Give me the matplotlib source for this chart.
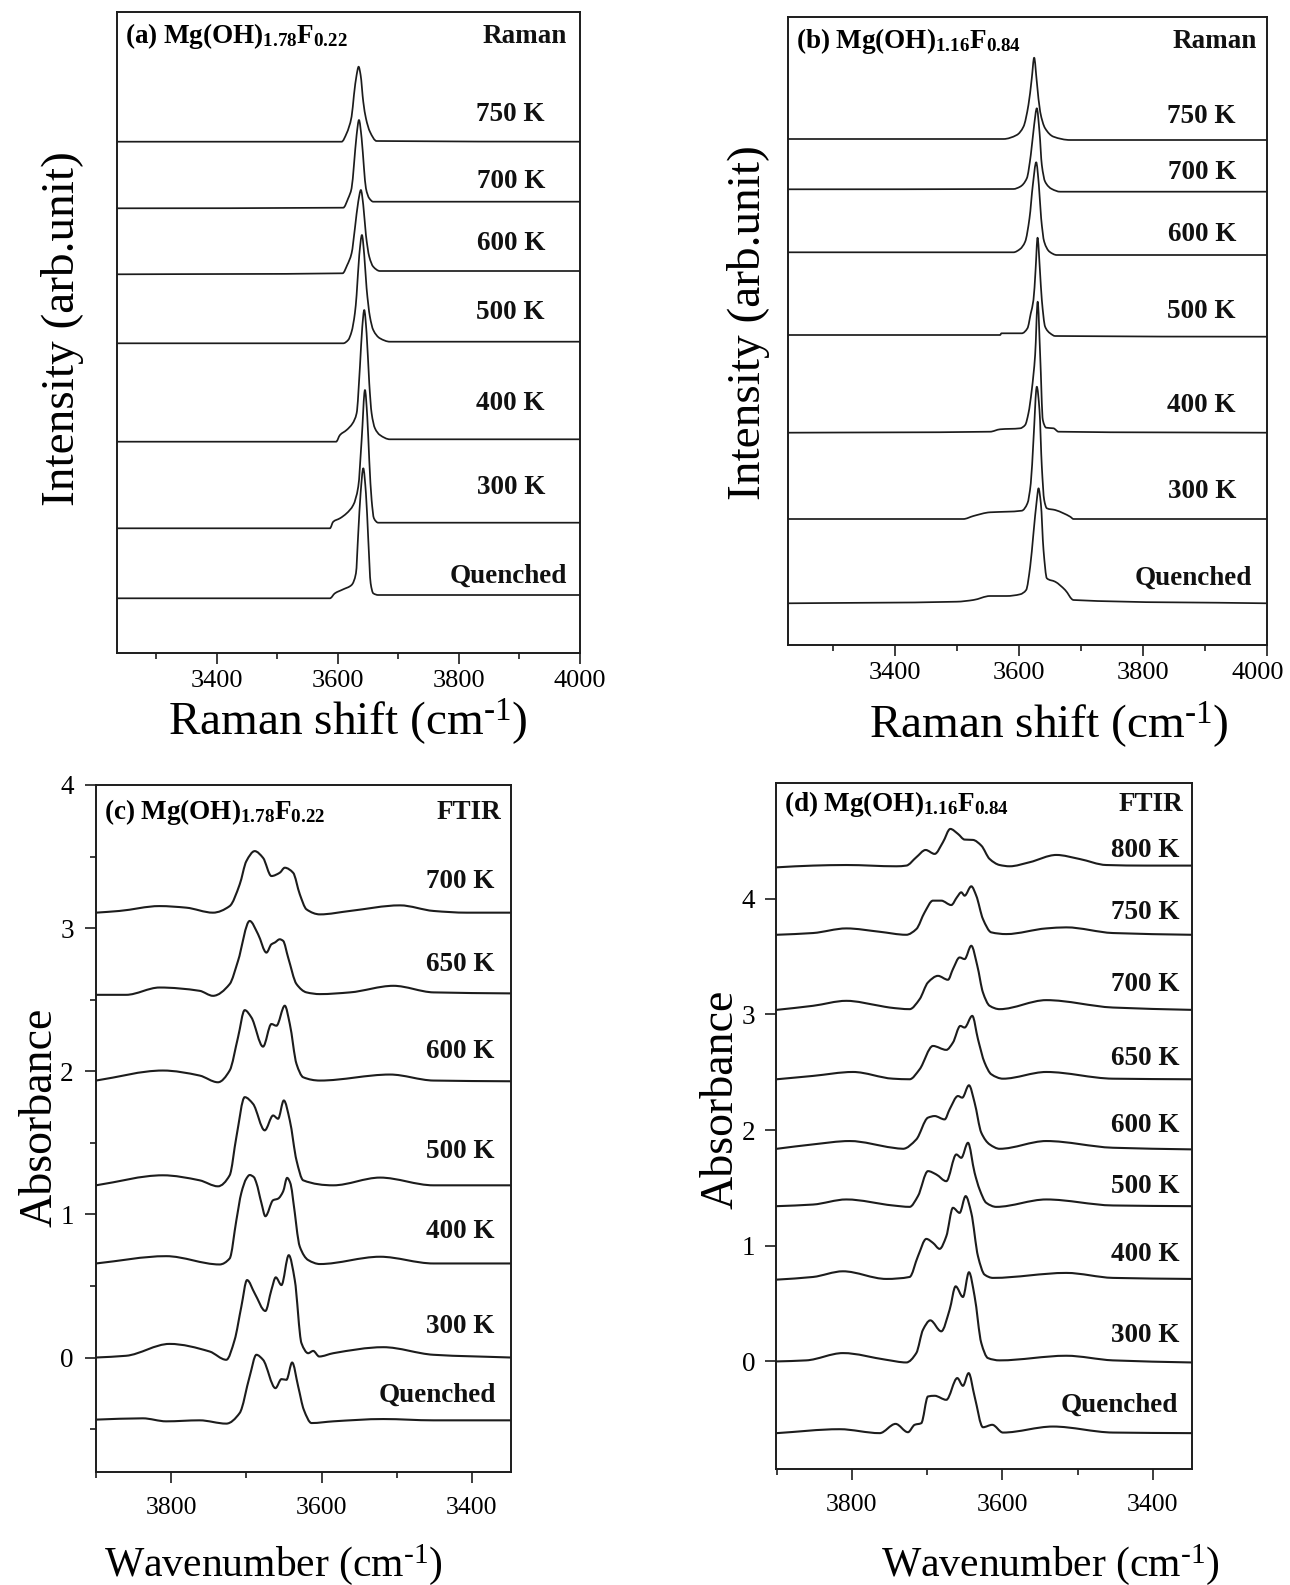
import matplotlib
matplotlib.use('Agg')
import numpy as np
import matplotlib.pyplot as plt
from matplotlib.ticker import MultipleLocator, NullLocator, FixedLocator, FuncFormatter
from matplotlib.path import Path
from matplotlib.patches import PathPatch

plt.rcParams['font.family'] = ['Liberation Serif', 'DejaVu Serif']
plt.rcParams['mathtext.fontset'] = 'custom'
plt.rcParams['mathtext.rm'] = 'Liberation Serif'
plt.rcParams['mathtext.bf'] = 'Liberation Serif:bold'
plt.rcParams['mathtext.it'] = 'Liberation Serif:italic'

# ---------------- DATA ----------------
# Panel (a) Raman, Mg(OH)1.78F0.22  (x: Raman shift cm-1, y: intensity arb. units incl. offset)
a_labels = ['750 K', '700 K', '600 K', '500 K', '400 K', '300 K', 'Quenched']
a_750_x = [3235, 3606.1, 3614.4, 3622.6, 3626.5, 3630.9, 3634.2, 3637.5, 3641.9, 3646.3, 3652.9, 3663.9, 4000]
a_750_y = [511.3, 511.3, 519.7, 536.3, 558, 578, 586.3, 578, 551.3, 534.7, 521.3, 512, 511.3]
a_700_x = [3235, 3608.8, 3617, 3622.6, 3626.5, 3630.9, 3634.8, 3639.2, 3643.1, 3646.3, 3651.8, 3658.4, 4000]
a_700_y = [444.7, 445.3, 454.7, 464.7, 488, 518, 533, 514.7, 484.7, 464.7, 454.7, 451.3, 451.3]
a_600_x = [3235, 3607.7, 3615.4, 3622.6, 3628.1, 3633.6, 3638, 3641.9, 3646.3, 3651.8, 3658.4, 3669.4, 4000]
a_600_y = [378.7, 379.7, 388, 399.7, 424.7, 451.3, 463, 448, 418, 396.3, 386.3, 382, 382]
a_500_x = [3235, 3608.8, 3617, 3622.6, 3628.1, 3630.9, 3635.3, 3639.7, 3643.5, 3647.4, 3652.9, 3658.4, 3669.4, 3686, 4000]
a_500_y = [309.7, 309.7, 313, 321.3, 340, 358, 398, 418, 398, 364.7, 336.3, 323, 314.7, 311.3, 311.3]
a_400_x = [3235, 3597, 3603.4, 3614.4, 3624.3, 3630.9, 3636.4, 3640.3, 3643.5, 3647.4, 3651.8, 3655.7, 3661.2, 3669.4, 3686, 4000]
a_400_y = [211.3, 211.3, 218, 223, 229.7, 239.7, 286.3, 326.3, 343, 319.7, 269.7, 239.7, 224.7, 218, 213.7, 213.7]
a_300_x = [3235, 3586.8, 3592.3, 3603.4, 3614.4, 3625.4, 3633.6, 3639.2, 3644.7, 3648.5, 3651.8, 3655.7, 3659.5, 3666.7, 4000]
a_300_y = [124.7, 124.7, 131.3, 134.7, 139.7, 148, 166.3, 213, 263, 236.3, 193, 153, 134.7, 130.3, 130.3]
a_q_x = [3235, 3586.8, 3595, 3608.8, 3622.6, 3629.8, 3633.6, 3637.5, 3641.9, 3646.3, 3650.2, 3654.1, 3658.4, 3666.7, 4000]
a_q_y = [54.7, 54.7, 59.7, 63.7, 68, 79.7, 119.7, 159.7, 184.7, 159.7, 113, 69.7, 59.7, 58, 58]

# Panel (b) Raman, Mg(OH)1.16F0.84
b_labels = ['750 K', '700 K', '600 K', '500 K', '400 K', '300 K', 'Quenched']
b_750_x = [3228, 3575.2, 3596.7, 3607.5, 3615.5, 3620.9, 3624.7, 3629, 3634.4, 3642.4, 3655.9, 3682.8, 4000]
b_750_y = [506, 506, 510, 518.3, 540, 566.7, 587.3, 563.3, 533.3, 516.7, 508.3, 505, 505]
b_700_x = [3228, 3591.3, 3602.1, 3612.9, 3619.3, 3624.7, 3629, 3633.3, 3637.1, 3642.4, 3653.2, 3666.7, 4000]
b_700_y = [455.7, 456, 458.3, 466.7, 490, 520, 536.7, 513.3, 480, 463.3, 456, 453.3, 453.3]
b_600_x = [3228, 3591.3, 3602.1, 3610.2, 3617.2, 3622.6, 3628, 3632.3, 3636, 3640.9, 3649.5, 3661.3, 4000]
b_600_y = [392.7, 392.7, 396, 403.3, 426.7, 460, 482.7, 460, 426.7, 403.3, 393.3, 390, 390]
b_500_x = [3228, 3569.8, 3572, 3604.8, 3613.9, 3619.3, 3623.6, 3627, 3630.2, 3634, 3637.1, 3642.4, 3650.5, 3658.6, 4000]
b_500_y = [310, 310, 311.7, 311.7, 316.7, 331.7, 345, 375, 407.3, 375, 345, 318.3, 311.7, 309, 308.3]
b_400_x = [3228, 3553.7, 3569.8, 3602.1, 3610.2, 3615.5, 3620.9, 3626.3, 3630.4, 3634.4, 3638.7, 3644.1, 3655.9, 3664, 4000]
b_400_y = [212.3, 213.3, 215.7, 216.7, 220, 231.7, 255, 290, 343.3, 290, 225, 217.3, 216.7, 213.3, 212.3]
b_300_x = [3228, 3510.6, 3526.8, 3553.7, 3580.6, 3604.8, 3613.9, 3619.3, 3623.6, 3629, 3633.3, 3637.1, 3640.9, 3645.2, 3658.6, 3672, 3682.8, 3688.2, 4000]
b_300_y = [126, 126, 129, 132.7, 133.3, 134.3, 141.7, 161.7, 205, 258.3, 235, 178.3, 145, 136.7, 135, 131.7, 128.3, 126, 126]
b_q_x = [3228, 3500, 3526.8, 3553.7, 3580.6, 3602.1, 3611.8, 3618.3, 3623.6, 3629, 3631.7, 3635.5, 3639.8, 3645.2, 3658.6, 3674.7, 3688.2, 4000]
b_q_y = [41.7, 43.3, 45, 49, 49, 50.7, 55, 78.3, 111.7, 145, 156.7, 141.7, 95, 66.7, 63.3, 55, 45, 41.7]

# Panel (c) FTIR, Mg(OH)1.78F0.22 (x: wavenumber, y: absorbance incl. offset)
c_labels = ['700 K', '650 K', '600 K', '500 K', '400 K', '300 K', 'Quenched']
c_700_x = [3900, 3868.9, 3815.6, 3780, 3744.4, 3722.2, 3708.9, 3700, 3688.9, 3677.8, 3666.7, 3655.6, 3648.9, 3637.8, 3628.9, 3620, 3602.2, 3562.2, 3495.6, 3451.1, 3406.7, 3348.9]
c_700_y = [3.108, 3.120, 3.154, 3.143, 3.108, 3.154, 3.305, 3.468, 3.538, 3.491, 3.364, 3.387, 3.422, 3.387, 3.236, 3.131, 3.096, 3.120, 3.159, 3.120, 3.108, 3.108]
c_650_x = [3900, 3860, 3815.6, 3762.2, 3744.4, 3722.2, 3711.1, 3695.6, 3684.4, 3673.3, 3666.7, 3662.2, 3655.6, 3651.1, 3644.4, 3633.3, 3620, 3602.2, 3562.2, 3504.4, 3451.1, 3348.9]
c_650_y = [2.534, 2.534, 2.585, 2.562, 2.527, 2.609, 2.771, 3.050, 2.957, 2.829, 2.887, 2.899, 2.922, 2.911, 2.794, 2.609, 2.551, 2.539, 2.551, 2.597, 2.551, 2.544]
c_600_x = [3900, 3811.1, 3762.2, 3737.8, 3722.2, 3711.1, 3702.2, 3693.3, 3677.8, 3666.7, 3660, 3648.9, 3642.2, 3633.3, 3624.4, 3602.2, 3508.9, 3451.1, 3348.9]
c_600_y = [1.935, 2.005, 1.970, 1.923, 2.005, 2.237, 2.427, 2.376, 2.172, 2.330, 2.318, 2.458, 2.330, 2.051, 1.958, 1.935, 1.977, 1.935, 1.930]
c_500_x = [3900, 3811.1, 3762.2, 3737.8, 3722.2, 3713.3, 3702.2, 3691.1, 3675.6, 3664.4, 3657.8, 3650.2, 3642.2, 3633.3, 3624.4, 3584.4, 3522.2, 3451.1, 3348.9]
c_500_y = [1.203, 1.273, 1.238, 1.196, 1.273, 1.540, 1.819, 1.772, 1.587, 1.691, 1.668, 1.796, 1.656, 1.377, 1.238, 1.203, 1.257, 1.203, 1.203]
c_400_x = [3900, 3806.7, 3735.6, 3722.2, 3713.3, 3706.7, 3700, 3695.6, 3690, 3686.7, 3680, 3674.7, 3664.4, 3657.8, 3651.1, 3645.8, 3641, 3637.8, 3628.9, 3617.8, 3602.2, 3522.2, 3451.1, 3348.9]
c_400_y = [0.657, 0.708, 0.650, 0.692, 0.959, 1.150, 1.250, 1.275, 1.260, 1.220, 1.080, 0.987, 1.099, 1.110, 1.160, 1.255, 1.210, 1.099, 0.774, 0.681, 0.653, 0.704, 0.657, 0.657]
c_300_x = [3900, 3860, 3802.2, 3748.9, 3726.7, 3715.6, 3706.7, 3699.1, 3688.9, 3674.7, 3666.7, 3660.9, 3653.3, 3643.6, 3635.6, 3626.7, 3617.8, 3611.1, 3603.1, 3584.4, 3517.8, 3451.1, 3348.9]
c_300_y = [0.0, 0.012, 0.095, 0.042, -0.016, 0.123, 0.355, 0.541, 0.448, 0.325, 0.472, 0.560, 0.506, 0.715, 0.541, 0.100, 0.030, 0.046, 0.007, 0.030, 0.072, 0.019, 0.0]
c_q_x = [3900, 3837.8, 3806.7, 3762.2, 3726.7, 3708.9, 3695.6, 3686.7, 3677.8, 3661.3, 3653.3, 3646.7, 3639.1, 3631.1, 3623.6, 3613.3, 3584.4, 3517.8, 3451.1, 3348.9]
c_q_y = [-0.434, -0.425, -0.446, -0.439, -0.462, -0.388, -0.132, 0.019, -0.016, -0.214, -0.151, -0.156, -0.035, -0.202, -0.365, -0.458, -0.446, -0.430, -0.439, -0.439]

# Panel (d) FTIR, Mg(OH)1.16F0.84
d_labels = ['800 K', '750 K', '700 K', '650 K', '600 K', '500 K', '400 K', '300 K', 'Quenched']
d_800_x = [3900, 3851.8, 3807.5, 3741.1, 3727.8, 3714.5, 3702.1, 3690.1, 3679.1, 3669.3, 3659.1, 3650.3, 3639.2, 3628.1, 3617, 3603.7, 3590.5, 3563.9, 3528.4, 3497.4, 3462, 3408.8, 3349]
d_800_y = [4.271, 4.286, 4.291, 4.280, 4.286, 4.358, 4.421, 4.387, 4.488, 4.603, 4.560, 4.511, 4.508, 4.459, 4.343, 4.291, 4.280, 4.315, 4.378, 4.343, 4.291, 4.286, 4.286]
d_750_x = [3900, 3851.8, 3807.5, 3763.2, 3727.8, 3714.5, 3703.4, 3692.4, 3681.3, 3668, 3660.5, 3654.7, 3650.3, 3641.4, 3634.8, 3625.9, 3614.8, 3594.9, 3541.7, 3515.2, 3453.1, 3349]
d_750_y = [3.688, 3.703, 3.743, 3.714, 3.688, 3.737, 3.882, 3.983, 3.983, 3.945, 4.012, 4.055, 4.026, 4.107, 4.026, 3.824, 3.709, 3.694, 3.743, 3.752, 3.703, 3.688]
d_700_x = [3900, 3851.8, 3807.5, 3763.2, 3749.9, 3723.4, 3710.1, 3699, 3685.7, 3672.4, 3665.8, 3656.9, 3650.3, 3641.4, 3633.4, 3625.9, 3617, 3603.7, 3541.7, 3453.1, 3349]
d_700_y = [3.039, 3.074, 3.117, 3.074, 3.059, 3.045, 3.131, 3.276, 3.333, 3.299, 3.391, 3.492, 3.478, 3.593, 3.420, 3.189, 3.074, 3.045, 3.123, 3.059, 3.039]
d_650_x = [3900, 3851.8, 3798.7, 3745.5, 3723.4, 3710.1, 3692.4, 3674.6, 3665.8, 3656, 3650.3, 3640.1, 3632.5, 3623.7, 3614.8, 3599.3, 3541.7, 3453.1, 3349]
d_650_y = [2.439, 2.468, 2.502, 2.444, 2.439, 2.525, 2.727, 2.693, 2.756, 2.900, 2.886, 2.987, 2.785, 2.583, 2.482, 2.444, 2.502, 2.444, 2.439]
d_600_x = [3900, 3851.8, 3803.1, 3745.5, 3732.2, 3714.5, 3699, 3690.1, 3676.8, 3670.2, 3659.1, 3653.4, 3644.5, 3637, 3628.1, 3617, 3603.7, 3541.7, 3453.1, 3349]
d_600_y = [1.838, 1.876, 1.905, 1.847, 1.838, 1.919, 2.107, 2.121, 2.092, 2.179, 2.294, 2.280, 2.387, 2.237, 1.977, 1.876, 1.838, 1.905, 1.847, 1.833]
d_500_x = [3900, 3851.8, 3807.5, 3745.5, 3723.4, 3712.3, 3699, 3687.9, 3674.6, 3661.3, 3654.7, 3645.8, 3637, 3630.3, 3621.5, 3608.2, 3541.7, 3453.1, 3349]
d_500_y = [1.342, 1.356, 1.400, 1.348, 1.336, 1.429, 1.645, 1.616, 1.558, 1.789, 1.760, 1.890, 1.631, 1.486, 1.371, 1.336, 1.400, 1.348, 1.342]
d_400_x = [3900, 3851.8, 3812, 3754.4, 3723.4, 3712.3, 3701.2, 3692.4, 3683.5, 3674.6, 3665.8, 3656.9, 3648.9, 3641.4, 3632.5, 3623.7, 3612.6, 3515.2, 3453.1, 3349]
d_400_y = [0.707, 0.730, 0.779, 0.713, 0.730, 0.909, 1.059, 1.025, 0.973, 1.082, 1.328, 1.284, 1.429, 1.284, 0.909, 0.750, 0.722, 0.765, 0.722, 0.713]
d_300_x = [3900, 3860.7, 3812, 3754.4, 3727.8, 3714.5, 3705.6, 3695.9, 3681.3, 3670.2, 3662.2, 3652.5, 3644.5, 3637, 3628.1, 3619.3, 3603.7, 3515.2, 3453.1, 3349]
d_300_y = [0.0, 0.009, 0.072, 0.014, -0.009, 0.072, 0.274, 0.355, 0.260, 0.447, 0.649, 0.557, 0.771, 0.563, 0.159, 0.029, 0.009, 0.049, 0.009, -0.009]
d_q_x = [3900, 3816.4, 3763.2, 3742, 3725.6, 3716.7, 3707.9, 3699, 3690.1, 3674.6, 3660, 3652.5, 3644.9, 3637, 3625.9, 3613.5, 3599.3, 3532.9, 3453.1, 3349]
d_q_y = [-0.620, -0.586, -0.620, -0.540, -0.612, -0.548, -0.534, -0.303, -0.297, -0.332, -0.144, -0.211, -0.101, -0.303, -0.569, -0.548, -0.615, -0.563, -0.615, -0.620]

# ---------------- LAYOUT / STYLE ----------------
W, H = 1290, 1585
fig = plt.figure(figsize=(W / 100, H / 100), dpi=100)
fig.patch.set_facecolor('white')
INK = '#1c1c1c'


def add_ax(l, t, r, b):
    return fig.add_axes([l / W, 1 - b / H, (r - l) / W, (b - t) / H])


def style(ax, tick_size):
    for s in ax.spines.values():
        s.set_linewidth(1.4)
        s.set_color(INK)
    ax.tick_params(which='both', direction='out', color=INK, width=1.2)
    ax.tick_params(which='major', length=8, labelsize=tick_size, pad=4)
    ax.tick_params(which='minor', length=4.5)


def smooth_line(ax, xs, ys, lw):
    """Draw the measured points joined by shape-preserving cubic Bezier segments."""
    x = np.asarray(xs, float)
    y = np.asarray(ys, float)
    h = np.diff(x)
    d = np.diff(y) / h
    m = np.zeros_like(x)
    m[0], m[-1] = d[0], d[-1]
    for k in range(1, len(x) - 1):
        if d[k - 1] * d[k] <= 0:
            m[k] = 0.0
        else:
            w1 = 2 * h[k] + h[k - 1]
            w2 = h[k] + 2 * h[k - 1]
            m[k] = (w1 + w2) / (w1 / d[k - 1] + w2 / d[k])
    verts = [(x[0], y[0])]
    codes = [Path.MOVETO]
    for k in range(len(x) - 1):
        verts += [(x[k] + h[k] / 3, y[k] + m[k] * h[k] / 3),
                  (x[k + 1] - h[k] / 3, y[k + 1] - m[k + 1] * h[k] / 3),
                  (x[k + 1], y[k + 1])]
        codes += [Path.CURVE4] * 3
    ax.add_patch(PathPatch(Path(verts, codes), fill=False, edgecolor=INK, lw=lw,
                           joinstyle='round', capstyle='round'))


def ftext(x, y, s, **kw):
    fig.text(x / W, 1 - y / H, s, **kw)


bold = dict(fontsize=19.5, fontweight='bold', color='#111111')
SUP = '\u2010' + '1'   # hyphen + 1 for cm^-1

# ---- (a)
axa = add_ax(117, 12, 580, 653)
style(axa, 19)
axa.set_xlim(3235, 4000)
axa.set_ylim(0, 641)
axa.xaxis.set_major_locator(MultipleLocator(200))
axa.xaxis.set_minor_locator(MultipleLocator(100))
axa.yaxis.set_major_locator(NullLocator())
for xs, ys in [(a_750_x, a_750_y), (a_700_x, a_700_y), (a_600_x, a_600_y), (a_500_x, a_500_y),
               (a_400_x, a_400_y), (a_300_x, a_300_y), (a_q_x, a_q_y)]:
    smooth_line(axa, xs, ys, 1.25)
a_lab_y = [532.3, 464.7, 403, 333.7, 243, 159, 70.7]
for lab, y in zip(a_labels, a_lab_y):
    axa.text(3978 if lab == 'Quenched' else 3942, y, lab, ha='right', va='baseline', **bold)
axa.text(3248, 609.7, r'$\mathbf{(a)\ Mg(OH)_{1.78}F_{0.22}}$', ha='left', va='baseline', fontsize=19.5)
axa.text(3978, 609.7, 'Raman', ha='right', va='baseline', **bold)

# ---- (b)
axb = add_ax(788, 17, 1267, 645)
style(axb, 19)
axb.set_xlim(3228, 4000)
axb.set_ylim(0, 628)
axb.xaxis.set_major_locator(MultipleLocator(200))
axb.xaxis.set_minor_locator(MultipleLocator(100))
axb.xaxis.set_major_formatter(FuncFormatter(lambda v, p: '' if v >= 3999 else '%d' % v))
axb.yaxis.set_major_locator(NullLocator())
for xs, ys in [(b_750_x, b_750_y), (b_700_x, b_700_y), (b_600_x, b_600_y), (b_500_x, b_500_y),
               (b_400_x, b_400_y), (b_300_x, b_300_y), (b_q_x, b_q_y)]:
    smooth_line(axb, xs, ys, 1.25)
b_lab_y = [521.7, 465.7, 404.3, 326.7, 233.3, 146.7, 60]
for lab, y in zip(b_labels, b_lab_y):
    axb.text(3976 if lab == 'Quenched' else 3950, y, lab, ha='right', va='baseline', **bold)
axb.text(3241, 597, r'$\mathbf{(b)\ Mg(OH)_{1.16}F_{0.84}}$', ha='left', va='baseline', fontsize=19.5)
axb.text(3984, 597, 'Raman', ha='right', va='baseline', **bold)
ftext(1284, 662, '4000', ha='right', va='top', fontsize=19)

# ---- (c)
axc = add_ax(96, 785, 511, 1472)
style(axc, 18.5)
axc.set_xlim(3900, 3348)
axc.set_ylim(-0.8, 4.0)
axc.xaxis.set_major_locator(MultipleLocator(200))
axc.xaxis.set_minor_locator(MultipleLocator(100))
axc.yaxis.set_major_locator(MultipleLocator(1))
axc.yaxis.set_minor_locator(MultipleLocator(0.5))
axc.tick_params(axis='x', which='major', pad=10)
axc.tick_params(axis='y', which='major', pad=8, labelsize=19.5)
for xs, ys in [(c_700_x, c_700_y), (c_650_x, c_650_y), (c_600_x, c_600_y), (c_500_x, c_500_y),
               (c_400_x, c_400_y), (c_300_x, c_300_y), (c_q_x, c_q_y)]:
    smooth_line(axc, xs, ys, 1.5)
c_lab_y = [3.282, 2.702, 2.093, 1.394, 0.832, 0.174, -0.307]
for lab, y in zip(c_labels, c_lab_y):
    axc.text(3368 if lab == 'Quenched' else 3370, y, lab, ha='right', va='baseline', **bold)
axc.text(3889, 3.763, r'$\mathbf{(c)\ Mg(OH)_{1.78}F_{0.22}}$', ha='left', va='baseline', fontsize=19.5)
axc.text(3361, 3.763, 'FTIR', ha='right', va='baseline', **bold)

# ---- (d)
axd = add_ax(776, 783, 1192, 1469)
style(axd, 18.5)
axd.set_xlim(3901, 3348)
axd.set_ylim(-0.93, 5.0)
axd.xaxis.set_major_locator(MultipleLocator(200))
axd.xaxis.set_minor_locator(MultipleLocator(100))
axd.yaxis.set_major_locator(FixedLocator([0, 1, 2, 3, 4]))
axd.tick_params(axis='x', which='major', pad=10)
axd.tick_params(axis='y', which='major', pad=7, labelsize=19.5)
for xs, ys in [(d_800_x, d_800_y), (d_750_x, d_750_y), (d_700_x, d_700_y), (d_650_x, d_650_y),
               (d_600_x, d_600_y), (d_500_x, d_500_y), (d_400_x, d_400_y), (d_300_x, d_300_y),
               (d_q_x, d_q_y)]:
    smooth_line(axd, xs, ys, 1.5)
d_lab_y = [4.358, 3.824, 3.203, 2.560, 1.983, 1.457, 0.872, 0.165, -0.433]
for lab, y in zip(d_labels, d_lab_y):
    axd.text(3366 if lab == 'Quenched' else 3364.5, y, lab, ha='right', va='baseline', **bold)
axd.text(3890, 4.762, r'$\mathbf{(d)\ Mg(OH)_{1.16}F_{0.84}}$', ha='left', va='baseline', fontsize=19.5)
axd.text(3359, 4.762, 'FTIR', ha='right', va='baseline', **bold)

# ---- axis titles
ftext(63, 329, 'Intensity (arb.unit)', rotation=90, ha='center', va='center', fontsize=34)
ftext(748, 323, 'Intensity (arb.unit)', rotation=90, ha='center', va='center', fontsize=34)
ftext(348, 735, r'Raman shift (cm$^{\mathregular{%s}}$)' % SUP, ha='center', va='baseline', fontsize=34)
ftext(1049, 738, r'Raman shift (cm$^{\mathregular{%s}}$)' % SUP, ha='center', va='baseline', fontsize=34)
ftext(40, 1117, 'Absorbance', rotation=90, ha='center', va='center', fontsize=33)
ftext(721, 1099, 'Absorbance', rotation=90, ha='center', va='center', fontsize=33)
ftext(273, 1576, r'Wavenumber (cm$^{\mathregular{%s}}$)' % SUP, ha='center', va='baseline', fontsize=30)
ftext(1050, 1576, r'Wavenumber (cm$^{\mathregular{%s}}$)' % SUP, ha='center', va='baseline', fontsize=30)

fig.savefig('out.png', dpi=100, facecolor='white')
